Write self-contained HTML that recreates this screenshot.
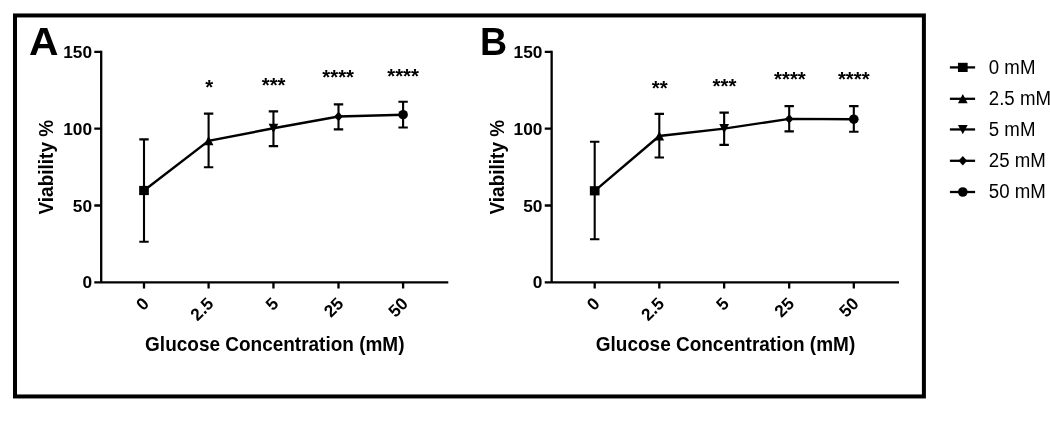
<!DOCTYPE html>
<html lang="en"><head><meta charset="utf-8"><title>Viability vs Glucose Concentration</title>
<style>
html,body{margin:0;padding:0;background:#fff;}
body{width:1050px;height:436px;overflow:hidden;}
svg{display:block;font-family:"Liberation Sans",Arial,sans-serif;}
.b{font-weight:bold;}
.tk{font-size:17.3px;font-weight:bold;}
.ttl{font-size:19px;font-weight:bold;}
.pl{font-size:38.9px;font-weight:bold;}
.st{font-size:20.4px;font-weight:bold;}
.lg{font-size:18.67px;}
.ln{stroke:#000;stroke-width:2.3;fill:none;}
</style></head><body>
<svg width="1050" height="436" viewBox="0 0 1050 436">
<rect x="0" y="0" width="1050" height="436" fill="#fff"/>
<rect x="15" y="15.45" width="908.9" height="381" fill="none" stroke="#000" stroke-width="4"/>

<g>
<text class="pl" transform="translate(29.1 54.7) scale(1.05 1)">A</text>
<path class="ln" d="M101.20 50.75V282.30M94.30 282.30H448.30"/>
<path class="ln" d="M94.30 205.50H101.20M94.30 128.70H101.20M94.30 51.90H101.20M144.00 282.30V288.60M208.60 282.30V288.60M273.45 282.30V288.60M338.50 282.30V288.60M403.10 282.30V288.60"/>
<text class="tk" text-anchor="end" x="92.00" y="288.30">0</text>
<text class="tk" text-anchor="end" x="92.00" y="211.50">50</text>
<text class="tk" text-anchor="end" x="92.00" y="134.70">100</text>
<text class="tk" text-anchor="end" x="92.00" y="57.90">150</text>
<text class="tk" text-anchor="end" transform="translate(150.00 304.70) rotate(-45)">0</text>
<text class="tk" text-anchor="end" transform="translate(214.60 304.70) rotate(-45)">2.5</text>
<text class="tk" text-anchor="end" transform="translate(279.45 304.70) rotate(-45)">5</text>
<text class="tk" text-anchor="end" transform="translate(344.50 304.70) rotate(-45)">25</text>
<text class="tk" text-anchor="end" transform="translate(409.10 304.70) rotate(-45)">50</text>
<text class="ttl" text-anchor="middle" transform="translate(274.80 351.0) scale(1 1.03)">Glucose Concentration (mM)</text>
<text class="ttl" text-anchor="middle" transform="translate(53.30 167.2) rotate(-90) scale(1 1.03)">Viability %</text>
<path class="ln" style="stroke-width:2.1" d="M144.00 139.40V241.80M139.30 139.40H148.70M139.30 241.80H148.70M208.60 113.60V167.30M203.90 113.60H213.30M203.90 167.30H213.30M273.45 111.40V146.10M268.75 111.40H278.15M268.75 146.10H278.15M338.50 104.40V129.40M333.80 104.40H343.20M333.80 129.40H343.20M403.10 101.70V127.50M398.40 101.70H407.80M398.40 127.50H407.80"/>
<path class="ln" style="stroke-width:2.4" d="M144.00 190.50L208.60 140.80L273.45 128.30L338.50 116.50L403.10 114.70"/>
<rect x="139.15" y="185.90" width="9.7" height="9.2"/>
<path d="M203.75 145.30L213.45 145.30L208.60 136.00Z"/>
<path d="M268.60 123.80L278.30 123.80L273.45 133.10Z"/>
<path d="M334.20 116.50L338.50 111.80L342.80 116.50L338.50 121.20Z"/>
<circle cx="403.10" cy="114.70" r="4.8"/>
<text class="st" text-anchor="middle" x="209.20" y="93.60">*</text>
<text class="st" text-anchor="middle" x="273.65" y="91.60">***</text>
<text class="st" text-anchor="middle" x="338.20" y="84.10">****</text>
<text class="st" text-anchor="middle" x="403.10" y="82.50">****</text>
</g>
<g>
<text class="pl" transform="translate(479.9 54.7) scale(0.965 1)">B</text>
<path class="ln" d="M551.65 50.75V282.30M544.75 282.30H899.00"/>
<path class="ln" d="M544.75 205.50H551.65M544.75 128.70H551.65M544.75 51.90H551.65M594.70 282.30V288.60M659.30 282.30V288.60M724.15 282.30V288.60M789.20 282.30V288.60M853.80 282.30V288.60"/>
<text class="tk" text-anchor="end" x="542.45" y="288.30">0</text>
<text class="tk" text-anchor="end" x="542.45" y="211.50">50</text>
<text class="tk" text-anchor="end" x="542.45" y="134.70">100</text>
<text class="tk" text-anchor="end" x="542.45" y="57.90">150</text>
<text class="tk" text-anchor="end" transform="translate(600.70 304.70) rotate(-45)">0</text>
<text class="tk" text-anchor="end" transform="translate(665.30 304.70) rotate(-45)">2.5</text>
<text class="tk" text-anchor="end" transform="translate(730.15 304.70) rotate(-45)">5</text>
<text class="tk" text-anchor="end" transform="translate(795.20 304.70) rotate(-45)">25</text>
<text class="tk" text-anchor="end" transform="translate(859.80 304.70) rotate(-45)">50</text>
<text class="ttl" text-anchor="middle" transform="translate(725.50 351.0) scale(1 1.03)">Glucose Concentration (mM)</text>
<text class="ttl" text-anchor="middle" transform="translate(504.00 167.2) rotate(-90) scale(1 1.03)">Viability %</text>
<path class="ln" style="stroke-width:2.1" d="M594.70 141.80V239.20M590.00 141.80H599.40M590.00 239.20H599.40M659.30 113.90V157.50M654.60 113.90H664.00M654.60 157.50H664.00M724.15 112.60V144.90M719.45 112.60H728.85M719.45 144.90H728.85M789.20 106.10V131.40M784.50 106.10H793.90M784.50 131.40H793.90M853.80 106.10V131.80M849.10 106.10H858.50M849.10 131.80H858.50"/>
<path class="ln" style="stroke-width:2.4" d="M594.70 190.80L659.30 136.00L724.15 128.60L789.20 118.90L853.80 119.20"/>
<rect x="589.85" y="186.20" width="9.7" height="9.2"/>
<path d="M654.45 140.50L664.15 140.50L659.30 131.20Z"/>
<path d="M719.30 124.10L729.00 124.10L724.15 133.40Z"/>
<path d="M784.90 118.90L789.20 114.20L793.50 118.90L789.20 123.60Z"/>
<circle cx="853.80" cy="119.20" r="4.8"/>
<text class="st" text-anchor="middle" x="659.80" y="95.05">**</text>
<text class="st" text-anchor="middle" x="724.50" y="93.15">***</text>
<text class="st" text-anchor="middle" x="789.90" y="85.60">****</text>
<text class="st" text-anchor="middle" x="853.80" y="85.70">****</text>
</g>
<g>
<path class="ln" d="M949.9 67.4H975.1"/>
<rect x="957.95" y="62.80" width="9.7" height="9.2"/>
<text class="lg" transform="translate(988.8 74.00) scale(1 1.065)">0 mM</text>
<path class="ln" d="M949.9 98.8H975.1"/>
<path d="M957.95 103.30L967.65 103.30L962.80 94.00Z"/>
<text class="lg" transform="translate(988.8 105.40) scale(1 1.065)">2.5 mM</text>
<path class="ln" d="M949.9 129.45H975.1"/>
<path d="M957.95 124.95L967.65 124.95L962.80 134.25Z"/>
<text class="lg" transform="translate(988.8 136.05) scale(1 1.065)">5 mM</text>
<path class="ln" d="M949.9 160.8H975.1"/>
<path d="M958.50 160.80L962.80 156.10L967.10 160.80L962.80 165.50Z"/>
<text class="lg" transform="translate(988.8 167.40) scale(1 1.065)">25 mM</text>
<path class="ln" d="M949.9 192.0H975.1"/>
<circle cx="962.80" cy="192.00" r="4.8"/>
<text class="lg" transform="translate(988.8 198.30) scale(1 1.065)">50 mM</text>
</g>
</svg></body></html>
